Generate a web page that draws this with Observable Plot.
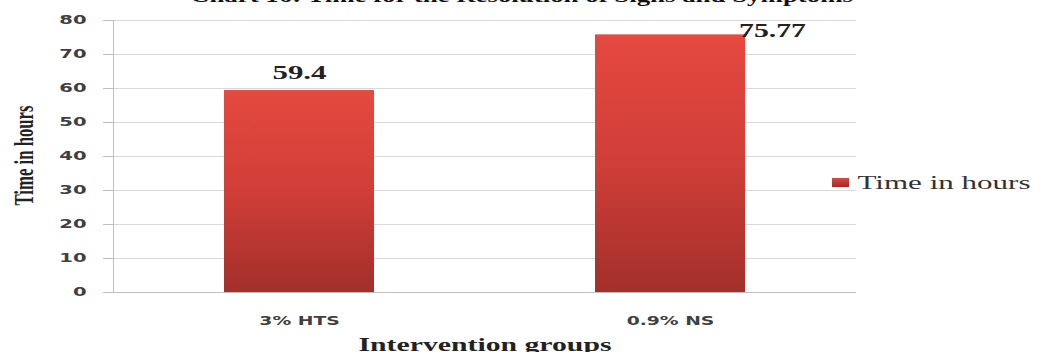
<!DOCTYPE html>
<html><head><meta charset="utf-8">
<script src="https://cdn.jsdelivr.net/npm/d3@7"></script>
<script src="https://cdn.jsdelivr.net/npm/@observablehq/plot@0.6"></script>
<style>
body{margin:0;background:#fff;}
#wrap{position:relative;width:1042px;height:352px;overflow:hidden;background:#fff;}
#swatch{position:absolute;left:832px;top:178px;width:17px;height:9px;background:linear-gradient(#d94641,#9e2d29);}
</style></head><body><div id="wrap"><div id="swatch"></div></div>
<script>
const groups = ["3% HTS", "0.9% NS"];
const hours = [59.4, 75.77];
const valueLabels = ["59.4", "75.77"];
const yTicks = [0, 10, 20, 30, 40, 50, 60, 70, 80];
const titleText = "Chart 16: Time for the Resolution of Signs and Symptoms";
const yLabel = "Time in hours";
const xLabel = "Intervention groups";
const legendLabel = "Time in hours";

const data = groups.map((g, i) => ({group: g, hours: hours[i], label: valueLabels[i]}));
const serif = "'Liberation Serif','Times New Roman',serif";
const sans = "'DejaVu Sans',Verdana,sans-serif";

const chart = Plot.plot({
  width: 1042, height: 352,
  marginLeft: 113, marginRight: 186, marginTop: 20, marginBottom: 60,
  style: {background: "transparent", overflow: "visible"},
  x: {domain: groups, paddingInner: 0.596, paddingOuter: 0.298},
  y: {domain: [0, 80]},
  marks: [
    Plot.gridY(yTicks, {stroke: "#d9d9d9", strokeOpacity: 1}),
    Plot.barY(data, {x: "group", y: "hours", fill: "url(#barGrad)"}),
    Plot.ruleY([0], {stroke: "#bfbfbf"}),
    Plot.frame({anchor: "left", stroke: "#bfbfbf"}),
    Plot.axisY({ticks: yTicks, tickSize: 10, tickPadding: 17, stroke: "#bfbfbf", fill: "#404040",
      label: null, fontSize: 12, fontWeight: "bold", fontFamily: sans}),
    Plot.axisX({tickSize: 0, tickPadding: 24, fill: "#404040", label: null,
      fontSize: 11.5, fontWeight: "bold", fontFamily: sans}),
    Plot.text(data, {filter: (d, i) => i === 0, x: "group", y: "hours", text: "label",
      lineAnchor: "bottom", dy: -12, fontSize: 18, fontWeight: "bold", fontFamily: serif,
      fill: "#222", ariaLabel: () => "value-a"}),
    Plot.text(data, {filter: (d, i) => i === 1, x: "group", y: "hours", text: "label",
      lineAnchor: "bottom", dx: 102, dy: 2, fontSize: 18, fontWeight: "bold", fontFamily: serif,
      fill: "#222", ariaLabel: () => "value-b"}),
    Plot.text([titleText], {frameAnchor: "top", dx: 36.5, dy: -18.5, lineAnchor: "bottom",
      fontSize: 18, fontWeight: "bold", fontFamily: serif, fill: "#111", ariaLabel: () => "title"}),
    Plot.text([yLabel], {frameAnchor: "left", rotate: -90, textAnchor: "start", dx: -81, dy: 49, lineAnchor: "bottom",
      fontSize: 27, fontWeight: "bold", fontFamily: serif, fill: "#222", ariaLabel: () => "ylabel"}),
    Plot.text([xLabel], {frameAnchor: "bottom", dy: 58, lineAnchor: "bottom",
      fontSize: 18, fontWeight: "bold", fontFamily: serif, fill: "#222", ariaLabel: () => "xlabel"}),
    Plot.text([legendLabel], {frameAnchor: "right", textAnchor: "start", dx: 1, dy: 32, lineAnchor: "bottom",
      fontSize: 19, fontFamily: serif, fill: "#333", ariaLabel: () => "legend"})
  ]
});
document.getElementById("wrap").appendChild(chart);

const svg = d3.select(chart);
const grad = svg.insert("defs", ":first-child").append("linearGradient")
  .attr("id", "barGrad").attr("x1", 0).attr("y1", 0).attr("x2", 0).attr("y2", 1);
grad.append("stop").attr("offset", "0%").attr("stop-color", "#e5493f");
grad.append("stop").attr("offset", "50%").attr("stop-color", "#d03e38");
grad.append("stop").attr("offset", "100%").attr("stop-color", "#a32f2b");

const S = 1.63;
function setLen(t, len) {
  t.setAttribute("textLength", len);
  t.setAttribute("lengthAdjust", "spacingAndGlyphs");
}
chart.querySelectorAll('g[aria-label$="tick label"] text').forEach(t => setLen(t, t.getComputedTextLength() * S));
const fixed = {"title": 663, "ylabel": 100, "xlabel": 253, "legend": 173, "value-a": 54, "value-b": 67};
for (const [k, len] of Object.entries(fixed)) {
  chart.querySelectorAll(`[aria-label="${k}"]`).forEach(el => {
    if (el.tagName.toLowerCase() === "text") setLen(el, len);
    else el.querySelectorAll("text").forEach(t => setLen(t, len));
  });
}
</script></body></html>
